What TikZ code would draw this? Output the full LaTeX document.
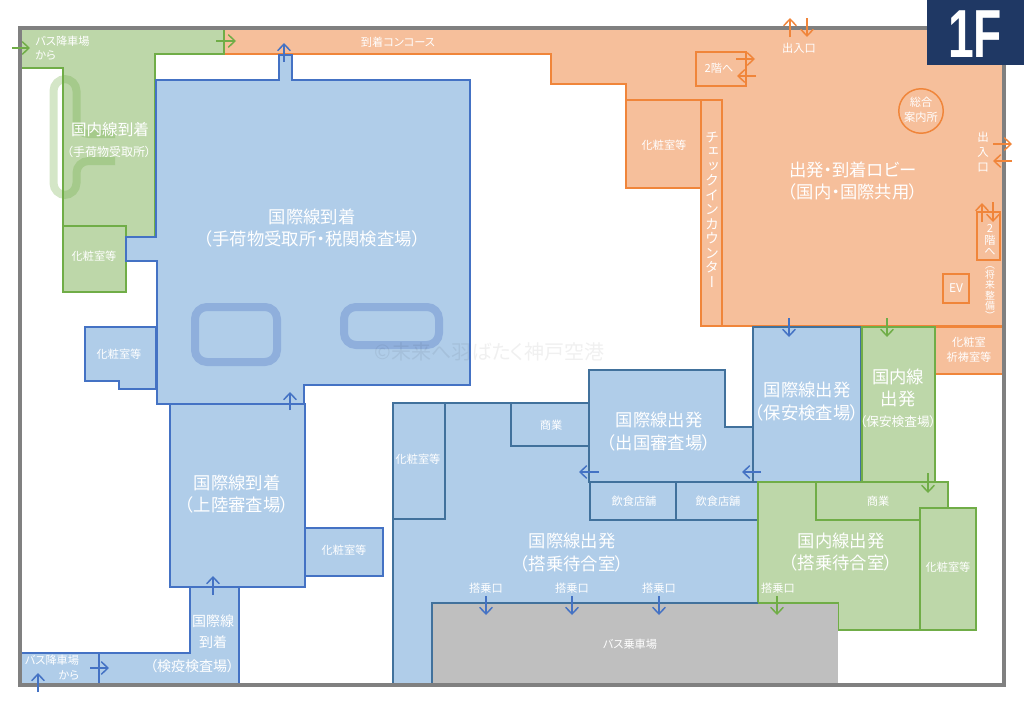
\documentclass[tikz,border=0pt]{standalone}
\usepackage{fontspec}
\usepackage{graphicx}
\usetikzlibrary{arrows.meta}
\setmainfont{Noto Sans CJK JP}[RawFeature=+palt]
\newfontfamily\vertfont{Noto Sans CJK JP}[RawFeature=+vert]
\newfontfamily\badgefont{Liberation Sans}[Scale=1]
\definecolor{blueFill}{HTML}{B0CDE9}
\definecolor{blueEdge}{HTML}{4472C4}
\definecolor{deptEdge}{HTML}{41719C}
\definecolor{greenFill}{HTML}{BDD7A9}
\definecolor{greenEdge}{HTML}{70AD47}
\definecolor{orangeFill}{HTML}{F6BF9B}
\definecolor{orangeEdge}{HTML}{F0853A}
\definecolor{loopBlue}{HTML}{8FAFDC}
\definecolor{busGray}{HTML}{BFBFBF}
\definecolor{frameGray}{HTML}{808080}
\definecolor{badgeBlue}{HTML}{1F3864}
\tikzset{
  blueArea/.style={fill=blueFill, draw=blueEdge, line width=1.2pt},
  deptArea/.style={fill=blueFill, draw=deptEdge, line width=1.2pt},
  greenArea/.style={fill=greenFill, draw=greenEdge, line width=1.3pt},
  orangeArea/.style={fill=orangeFill, draw=orangeEdge, line width=1.4pt},
  flow/.style={line width=1.1pt, -{Straight Barb[length=5pt,width=9.5pt,line width=1.1pt]}},
  bigText/.style={text=white, align=center, inner sep=0pt, font=\fontsize{13}{17}\selectfont},
  midText/.style={text=white, align=center, inner sep=0pt, font=\fontsize{10}{15}\selectfont},
  smallText/.style={text=white, align=center, inner sep=0pt, font=\fontsize{8.4}{11}\selectfont},
  vertText/.style={text=white, align=center, inner sep=0pt},
}
\begin{document}
\begin{tikzpicture}[x=0.75pt,y=-0.75pt]
\useasboundingbox (0,0) rectangle (1024,703);
%------------------ orange
\draw[orangeArea] (224,28)--(1004,28)--(1004,326)--(701,326)--(701,188)--(626,188)--(626,84)--(551,84)--(551,54)--(224,54)--cycle;
\draw[orangeArea] (626,100) rectangle (701,188);
\draw[orangeArea] (701,100) rectangle (722,326);
\draw[orangeArea] (696,52) rectangle (746,86);
\draw[orangeArea] (977,212) rectangle (1000,260);
\draw[orangeArea] (943,274) rectangle (969,303);
\draw[orangeArea] (935,327) rectangle (1004,374);
\node[circle, minimum size=44.5*0.75pt, inner sep=0pt, draw=orangeEdge, line width=1.1pt] (infoDesk) at (921,111) {};
%------------------ green
\draw[greenArea] (20,28)--(224,28)--(224,54)--(155,54)--(155,237)--(126,237)--(126,226)--(63,226)--(63,68)--(20,68)--cycle;
\draw[greenArea] (63,226) rectangle (126,292);
\draw[greenEdge, opacity=0.3, line width=6pt, rounded corners=9pt] (115,134)--(76.5,134)--(76.5,79)--(53.5,79)--(53.5,195)--(76.5,195)--(76.5,161)--(115,161);
%------------------ blue, arrivals
\draw[blueArea] (279,80)--(279,55)--(292,55)--(292,80)--(470,80)--(470,385)--(304,385)--(304,404)--(157,404)--(157,261)--(126,261)--(126,237)--(156,237)--(156,80)--cycle;
\draw[blueArea] (85,327)--(156,327)--(156,389)--(119,389)--(119,381)--(85,381)--cycle;
\draw[blueArea] (170,404) rectangle (305,587);
\draw[blueArea] (305,528) rectangle (383,576);
\draw[blueArea] (190,587)--(239,587)--(239,685)--(20,685)--(20,653)--(190,653)--cycle;
\draw[blueArea] (99,653)--(99,685);
\draw[loopBlue, line width=6pt, rounded corners=9pt] (195,307) rectangle (277,362);
\draw[loopBlue, line width=6pt, rounded corners=9pt] (344,307) rectangle (439,345);
%------------------ blue, departures
\draw[deptArea] (393,403)--(590,403)--(590,520)--(758,520)--(758,603)--(432,603)--(432,685)--(393,685)--cycle;
\draw[deptArea] (393,403) rectangle (445,519);
\draw[deptArea] (511,403) rectangle (590,446);
\draw[deptArea] (589,370)--(725,370)--(725,427)--(753,427)--(753,482)--(589,482)--cycle;
\draw[deptArea] (590,482) rectangle (676,520);
\draw[deptArea] (676,482) rectangle (758,520);
\draw[deptArea] (753,327) rectangle (861,482);
%------------------ green, departures
\draw[greenArea] (862,327)--(935,327)--(935,482)--(862,482)--cycle;
\draw[greenArea] (758,482)--(948,482)--(948,508)--(976,508)--(976,630)--(838,630)--(838,603)--(758,603)--cycle;
\draw[greenArea] (816,482)--(948,482)--(948,508)--(920,508)--(920,520)--(816,520)--cycle;
\draw[greenArea] (920,508) rectangle (976,630);
%------------------ bus
\fill[busGray] (432,603) rectangle (838,685);
\draw[deptEdge, line width=1.2pt] (432,685)--(432,603)--(758,603);
\draw[greenEdge, line width=1.3pt] (758,603)--(838,603);
%------------------ frame
\draw[frameGray, line width=3pt] (19.5,28) rectangle (1004,685);
\fill[badgeBlue] (927,0) rectangle (1024,65);
\node[text=white, inner sep=0pt, font=\badgefont\bfseries\fontsize{51}{51}\selectfont] (badge) at (975,34) {\scalebox{0.68}[1]{1F}};
%------------------ watermark
\node[text=black, opacity=0.06, inner sep=0pt, font=\fontsize{15}{15}\selectfont] (mark) at (489.5,352) {©未来へ羽ばたく神戸空港};
%------------------ arrows
\foreach \xa/\ya/\xb/\yb [count=\i] in {12/48/30/48,216/41/236/41,887/318/887/337,928/473/928/493,777/596/777/615}{
  \coordinate (gS\i) at (\xa,\ya);
  \coordinate (gE\i) at (\xb,\yb);
  \draw[flow, greenEdge] (gS\i)--(gE\i);
}
\foreach \xa/\ya/\xb/\yb [count=\i] in {284/62/284/43,290/410/290/392,213/595/213/576,90/668/109/668,38/692/38/673,599/472/579/472,761/472/742/472,486/596/486/615,572/596/572/615,659/596/659/615,789/318/789/337}{
  \coordinate (bS\i) at (\xa,\ya);
  \coordinate (bE\i) at (\xb,\yb);
  \draw[flow, blueEdge] (bS\i)--(bE\i);
}
\foreach \xa/\ya/\xb/\yb [count=\i] in {790/37/790/18,807/18/807/37,736/59/755/59,756/76/737/76,993/144/1012/144,1012/161/993/161,982/222/982/203,993/202/993/222}{
  \coordinate (oS\i) at (\xa,\ya);
  \coordinate (oE\i) at (\xb,\yb);
  \draw[flow, orangeEdge] (oS\i)--(oE\i);
}
%------------------ labels, orange
\node[smallText] (arrHall) at (398,42) {到着コンコース};
\node[smallText] (upA) at (719,68) {2階へ};
\node[smallText] (gateTop) at (799,48) {出入口};
\node[bigText] (lobby) at (853,181) {出発・到着ロビー\\（国内・国際共用）};
\node[smallText] (deskText) at (921,109.5) {総合\\案内所};
\node[smallText] (wcO) at (664,145) {化粧室等};
\node[smallText] (wcPray) at (969,350) {化粧室\\祈祷室等};
\node[smallText, font=\fontsize{9}{11}\selectfont] (evText) at (956,288) {EV};
\node[vertText, font=\vertfont\fontsize{10.4}{10.9}\selectfont] (checkIn) at (712,209.5) {チ\\ェ\\ッ\\ク\\イ\\ン\\カ\\ウ\\ン\\タ\\ー};
\node[vertText, font=\vertfont\fontsize{8.6}{11.2}\selectfont] (gateSide) at (983,152) {出\\入\\口};
\node[vertText, font=\vertfont\fontsize{8.4}{8.9}\selectfont] (upB) at (990,240) {2\\階\\へ};
\node[vertText, font=\vertfont\fontsize{7.4}{7.7}\selectfont] (future) at (990,293) {（\\将\\来\\整\\備\\）};
%------------------ labels, green
\node[smallText, align=left] (busG) at (62.5,48) {バス降車場\\から};
\node[bigText, font=\fontsize{11.7}{17}\selectfont] (domArr) at (110,130) {国内線到着};
\node[midText, font=\fontsize{9}{9}\selectfont] (domArrB) at (109,152) {（手荷物受取所）};
\node[smallText] (wcG) at (94,256) {化粧室等};
\node[bigText] (domSec) at (898,388) {国内線\\出発};
\node[midText, font=\fontsize{9.5}{9.5}\selectfont] (domSecB) at (898,422) {（保安検査場）};
\node[smallText] (shopG) at (878,501) {商業};
\node[smallText] (wcH) at (948,567) {化粧室等};
\node[bigText] (domWait) at (841,552) {国内線出発\\（搭乗待合室）};
\node[smallText] (gateD) at (778,588) {搭乗口};
%------------------ labels, blue
\node[bigText] (intArr) at (312,228) {国際線到着\\（手荷物受取所・税関検査場）};
\node[smallText] (wcB) at (119,354) {化粧室等};
\node[bigText] (intImm) at (237,494) {国際線到着\\（上陸審査場）};
\node[smallText] (wcC) at (344,550) {化粧室等};
\node[midText, font=\fontsize{10.5}{15.7}\selectfont] (intQuar) at (213,632) {国際線\\到着};
\node[midText, font=\fontsize{10.5}{10.5}\selectfont] (intQuarB) at (192,666) {（検疫検査場）};
\node[smallText, align=right] (busB) at (52,667.5) {バス降車場\\から};
\node[smallText] (wcD) at (418,459) {化粧室等};
\node[smallText] (shopB) at (551,425) {商業};
\node[bigText] (intOut) at (659,431.5) {国際線出発\\（出国審査場）};
\node[smallText] (foodA) at (634,501) {飲食店舗};
\node[smallText] (foodB) at (718,501) {飲食店舗};
\node[bigText] (intWait) at (572,552.5) {国際線出発\\（搭乗待合室）};
\node[smallText] (gateA) at (486,588) {搭乗口};
\node[smallText] (gateB) at (572,588) {搭乗口};
\node[smallText] (gateC) at (659,588) {搭乗口};
\node[smallText] (busStop) at (630,644) {バス乗車場};
\node[bigText] (intSec) at (807,401.5) {国際線出発\\（保安検査場）};
\end{tikzpicture}
\end{document}
